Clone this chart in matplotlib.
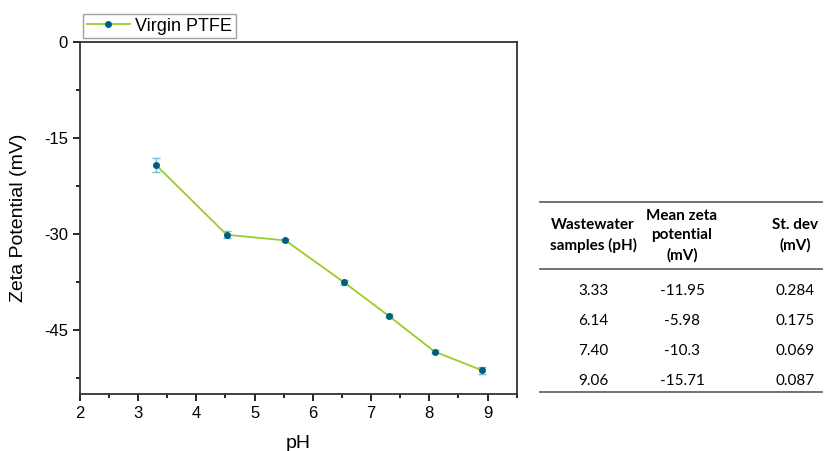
import matplotlib.pyplot as plt
from matplotlib.lines import Line2D
from matplotlib.ticker import MultipleLocator

# data
ph = [3.31, 4.52, 5.53, 6.53, 7.30, 8.09, 8.91]
zeta = [-19.25, -30.1, -31.0, -37.5, -42.75, -48.35, -51.3]
zeta_err = [1.1, 0.55, 0.25, 0.4, 0.25, 0.25, 0.5]

# table contents
tab_header = ["Wastewater\nsamples (pH)", "Mean zeta\npotential\n(mV)", "St. dev\n(mV)"]
tab_ph = ["3.33", "6.14", "7.40", "9.06"]
tab_mean = ["-11.95", "-5.98", "-10.3", "-15.71"]
tab_sd = ["0.284", "0.175", "0.069", "0.087"]

plt.rcParams["font.family"] = ["Liberation Sans", "DejaVu Sans"]
plt.rcParams["axes.unicode_minus"] = False

fig = plt.figure(figsize=(8.32, 4.51), dpi=100)
ax = fig.add_axes([0.096, 0.126, 0.525, 0.781])

line_c = "#9acd2a"
mark_c = "#005f7f"
ax.errorbar(ph, zeta, yerr=zeta_err, color=line_c, lw=1.3,
            marker="o", ms=4, mfc=mark_c, mec=mark_c,
            ecolor="#6ec3d3", elinewidth=1, capsize=3, capthick=1)

ax.set_xlim(2, 9.5)
ax.set_ylim(-55, 0)
ax.xaxis.set_major_locator(MultipleLocator(1))
ax.xaxis.set_minor_locator(MultipleLocator(0.5))
ax.yaxis.set_major_locator(MultipleLocator(15))
ax.yaxis.set_minor_locator(MultipleLocator(7.5))
ax.tick_params(which="both", direction="out", labelsize=12, width=1.2)
ax.tick_params(which="major", length=5)
ax.tick_params(which="minor", length=3)
for s in ax.spines.values():
    s.set_linewidth(1.3)
    s.set_color("#333333")

ax.set_xlabel("pH", fontsize=14, labelpad=10)
ax.set_ylabel("Zeta Potential (mV)", fontsize=14, labelpad=12)

handle = Line2D([], [], color=line_c, lw=1.3, marker="o", ms=4,
                mfc=mark_c, mec=mark_c)
leg = ax.legend([handle], ["Virgin PTFE"], loc="lower left",
                bbox_to_anchor=(-0.005, 0.995), fontsize=13,
                frameon=True, fancybox=False, edgecolor="#888888",
                borderpad=0.2, handlelength=2.4, handletextpad=0.3,
                borderaxespad=0.3)
leg.get_frame().set_linewidth(1)

# table drawn in figure coordinates
tfont = ["Lato", "DejaVu Sans"]
x0, x1 = 540 / 832, 822 / 832
col_x = [593 / 832, 682 / 832, 795 / 832]
y_top = 1 - 202 / 451
y_head = 1 - 269 / 451
y_bot = 1 - 392 / 451
for y in [y_top, y_head, y_bot]:
    fig.add_artist(Line2D([x0, x1], [y, y], color="#666666", lw=1.3))

for cx, h in zip(col_x, tab_header):
    fig.text(cx, (y_top + y_head) / 2, h, ha="center", va="center",
             fontsize=11, fontweight="bold", family=tfont, linespacing=1.5)

row_y = [291, 321, 351, 381]
for i, ry in enumerate(row_y):
    yy = 1 - ry / 451
    for cx, val in zip(col_x, [tab_ph[i], tab_mean[i], tab_sd[i]]):
        fig.text(cx, yy, val, ha="center", va="center", fontsize=11,
                 family=tfont)

fig.savefig("out.png", dpi=100)
